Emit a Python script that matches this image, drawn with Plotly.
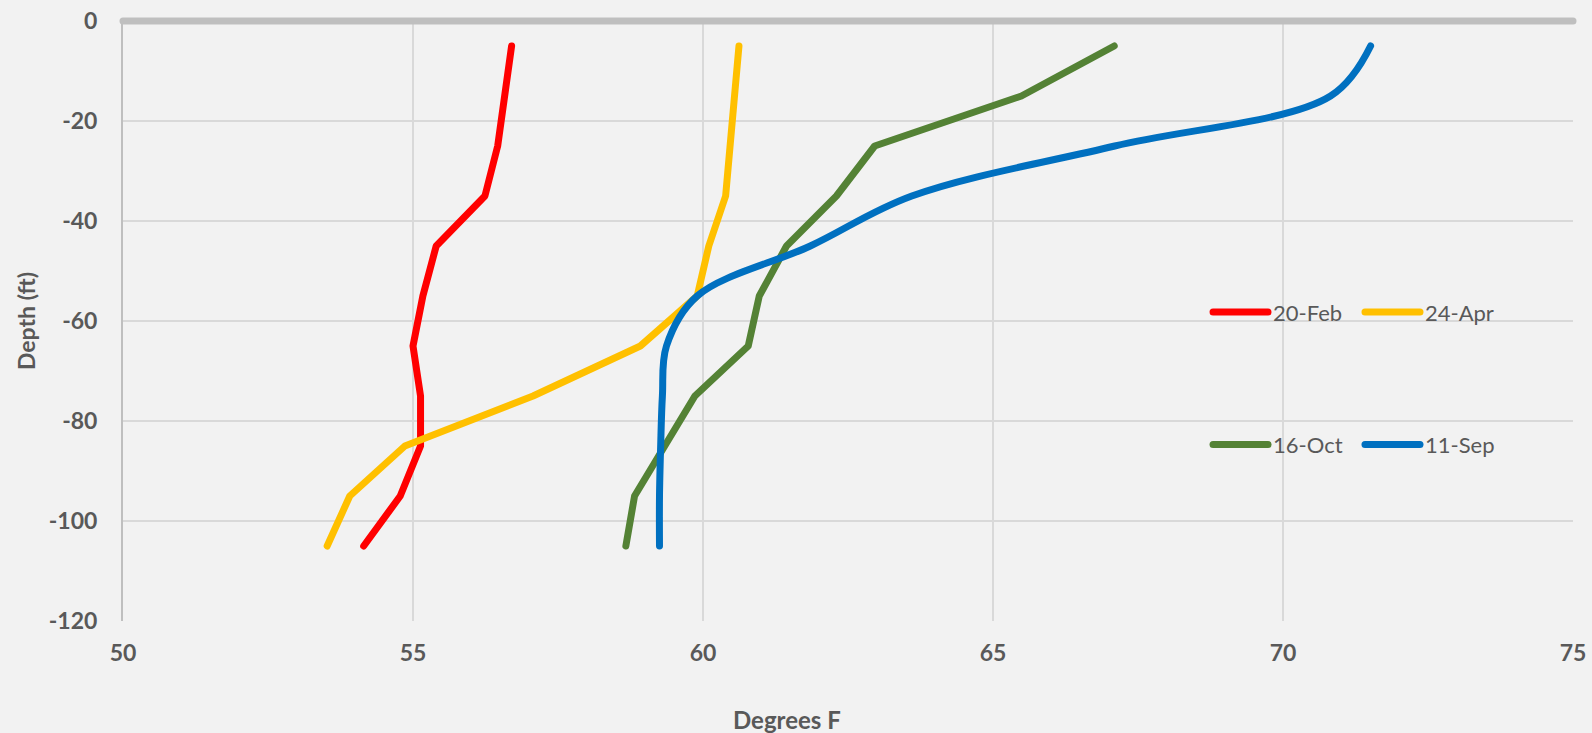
import plotly.graph_objects as go

# Water temperature profiles by survey date
depth_ft = [-5, -15, -25, -35, -45, -55, -65, -75, -85, -95, -105]

temp_20_feb = [56.70, 56.58, 56.46, 56.24, 55.40, 55.17, 55.00, 55.13, 55.13, 54.78, 54.15]
temp_24_apr = [60.62, 60.55, 60.46, 60.39, 60.10, 59.90, 58.92, 57.07, 54.86, 53.91, 53.52]
temp_16_oct = [67.09, 65.49, 62.96, 62.30, 61.44, 60.97, 60.78, 59.86, 59.34, 58.82, 58.67]
temp_11_sep = [71.51, 70.82, 67.10, 63.60, 61.85, 59.90, 59.37, 59.30, 59.27, 59.25, 59.25]

x_ticks = [50, 55, 60, 65, 70, 75]
y_ticks = [0, -20, -40, -60, -80, -100, -120]

FONT = "Lato"
TEXT_GREY = "#595959"
BG = "#F2F2F2"

series = [
    ("20-Feb", temp_20_feb, "#FF0000", "linear", "legend"),
    ("24-Apr", temp_24_apr, "#FFC000", "linear", "legend2"),
    ("16-Oct", temp_16_oct, "#548235", "linear", "legend3"),
    ("11-Sep", temp_11_sep, "#0070C0", "spline", "legend4"),
]

fig = go.Figure()
for name, temps, color, shape, leg in series:
    fig.add_trace(go.Scatter(
        x=temps, y=depth_ft, name=name, mode="lines",
        line=dict(color=color, width=7, shape=shape, smoothing=1.0),
        legend=leg, hoverinfo="skip",
    ))

# thick horizontal axis line along the surface (depth 0, top edge of the plot)
fig.add_shape(type="line", xref="paper", yref="paper", x0=0, x1=1, y0=1, y1=1,
              line=dict(color="#BFBFBF", width=7), layer="above")

legend_style = dict(
    bgcolor="rgba(0,0,0,0)", borderwidth=0,
    font=dict(family=FONT, size=22, color=TEXT_GREY),
    itemwidth=55, yanchor="middle", xanchor="left",
)
col1, col2 = 0.7483, 0.8531
row1, row2 = 0.5145, 0.2938

fig.update_layout(
    width=1592, height=733,
    paper_bgcolor=BG, plot_bgcolor=BG,
    margin=dict(l=123, r=19, t=21, b=112),
    font=dict(family=FONT, color=TEXT_GREY),
    showlegend=True,
    legend=dict(x=col1, y=row1, **legend_style),
    legend2=dict(x=col2, y=row1, **legend_style),
    legend3=dict(x=col1, y=row2, **legend_style),
    legend4=dict(x=col2, y=row2, **legend_style),
    xaxis=dict(
        range=[50, 75], tickvals=x_ticks, ticktext=[str(v) for v in x_ticks],
        showgrid=True, gridcolor="#D9D9D9", gridwidth=1.5,
        zeroline=False, showline=False, ticks="", automargin=False,
        tickfont=dict(family=FONT, size=23, color=TEXT_GREY, weight="bold"),
        ticklabelstandoff=16,
    ),
    yaxis=dict(
        range=[-120, 0], tickvals=y_ticks, ticktext=[str(v) for v in y_ticks],
        showgrid=True, gridcolor="#D9D9D9", gridwidth=1.5,
        zeroline=False, showline=True, linecolor="#BFBFBF", linewidth=2,
        ticks="", automargin=False,
        tickfont=dict(family=FONT, size=23, color=TEXT_GREY, weight="bold"),
        ticklabelstandoff=19,
    ),
    annotations=[
        dict(text="<b>Degrees F</b>", xref="paper", yref="paper",
             x=(787 - 123) / 1450, y=-(719 - 621) / 600,
             xanchor="center", yanchor="middle", showarrow=False,
             font=dict(family=FONT, size=24, color=TEXT_GREY)),
        dict(text="<b>Depth (ft)</b>", xref="paper", yref="paper",
             x=-(123 - 26) / 1450, y=(621 - 321) / 600, textangle=-90,
             xanchor="center", yanchor="middle", showarrow=False,
             font=dict(family=FONT, size=23, color=TEXT_GREY)),
    ],
)

# round line ends and joins
round_caps = """
var gd = document.getElementById('{plot_id}');
gd.querySelectorAll('.scatterlayer .js-line, .legendlines path, .shapelayer path').forEach(function(p){
  p.style.strokeLinecap = 'round';
  p.style.strokeLinejoin = 'round';
});
"""

fig.write_html("out.html", post_script=round_caps)
